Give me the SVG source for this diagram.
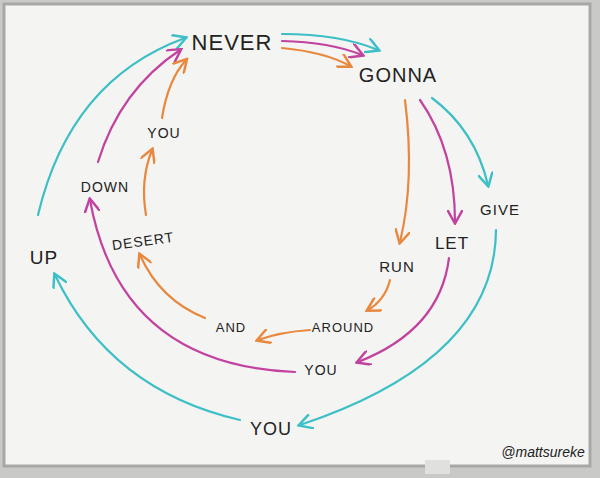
<svg xmlns="http://www.w3.org/2000/svg" width="600" height="478" viewBox="0 0 600 478">
<style>
.t{font-family:"Liberation Sans",sans-serif;fill:#222;text-anchor:middle;letter-spacing:1px}
.c{fill:none;stroke-width:2.2;stroke-linecap:round}
.tl{stroke:#3cbfc6}.mg{stroke:#c2429f}.or{stroke:#e8883e}
</style>
<defs>
<marker id="at" viewBox="0 0 10 10" refX="8" refY="5" markerWidth="7" markerHeight="7" orient="auto"><path d="M0,0 L9,5 L0,10" fill="none" stroke="#3cbfc6" stroke-width="1.6"/></marker>
<marker id="am" viewBox="0 0 10 10" refX="8" refY="5" markerWidth="7" markerHeight="7" orient="auto"><path d="M0,0 L9,5 L0,10" fill="none" stroke="#c2429f" stroke-width="1.6"/></marker>
<marker id="ao" viewBox="0 0 10 10" refX="8" refY="5" markerWidth="7" markerHeight="7" orient="auto"><path d="M0,0 L9,5 L0,10" fill="none" stroke="#e8883e" stroke-width="1.6"/></marker>
</defs>
<rect width="600" height="478" fill="#c9c9c7"/>
<rect x="4" y="4" width="586" height="462" fill="#f4f4f2" stroke="#a8a8a6" stroke-width="3"/>
<rect x="425" y="460" width="25" height="14" fill="#e0e0de"/>
<g id="connectors">
<path class="c tl" d="M282,34 Q340,34 378,50" marker-end="url(#at)"/>
<path class="c mg" d="M282,41 Q330,42 362,55" marker-end="url(#am)"/>
<path class="c or" d="M282,48 Q325,52 350,66" marker-end="url(#ao)"/>
<path class="c tl" d="M432,98 Q475,130 488,185" marker-end="url(#at)"/>
<path class="c mg" d="M420,100 Q455,150 455,222" marker-end="url(#am)"/>
<path class="c or" d="M405,100 Q415,180 400,242" marker-end="url(#ao)"/>
<path class="c tl" d="M496,230 Q495,360 300,425" marker-end="url(#at)"/>
<path class="c mg" d="M449,258 Q440,330 358,362" marker-end="url(#am)"/>
<path class="c or" d="M390,280 Q385,300 368,310" marker-end="url(#ao)"/>
<path class="c or" d="M310,330 Q280,332 258,340" marker-end="url(#ao)"/>
<path class="c tl" d="M240,420 Q110,390 55,275" marker-end="url(#at)"/>
<path class="c mg" d="M295,372 Q120,365 90,200" marker-end="url(#am)"/>
<path class="c or" d="M205,318 Q160,300 140,255" marker-end="url(#ao)"/>
<path class="c tl" d="M38,215 Q70,80 185,38" marker-end="url(#at)"/>
<path class="c mg" d="M98,162 Q120,90 180,50" marker-end="url(#am)"/>
<path class="c or" d="M146,215 Q140,180 152,150" marker-end="url(#ao)"/>
<path class="c or" d="M162,118 Q168,80 186,60" marker-end="url(#ao)"/>
</g>
<g id="n-never"><text class="t" x="232" y="50" font-size="22">NEVER</text></g>
<g id="n-gonna"><text class="t" x="398" y="82" font-size="20">GONNA</text></g>
<g id="n-give"><text class="t" x="500" y="215" font-size="15">GIVE</text></g>
<g id="n-let"><text class="t" x="452" y="249" font-size="17">LET</text></g>
<g id="n-run"><text class="t" x="397" y="272" font-size="15">RUN</text></g>
<g id="n-around"><text class="t" x="343" y="332" font-size="13">AROUND</text></g>
<g id="n-and"><text class="t" x="231" y="332" font-size="13">AND</text></g>
<g id="n-desert"><text class="t" x="143" y="246" font-size="14" transform="rotate(-8 143 241)">DESERT</text></g>
<g id="n-you1"><text class="t" x="164" y="138" font-size="14">YOU</text></g>
<g id="n-down"><text class="t" x="105" y="192" font-size="14">DOWN</text></g>
<g id="n-up"><text class="t" x="44" y="264" font-size="19">UP</text></g>
<g id="n-you2"><text class="t" x="321" y="375" font-size="14">YOU</text></g>
<g id="n-you3"><text class="t" x="271" y="435" font-size="18">YOU</text></g>
<text x="543" y="457" font-family="Liberation Sans,sans-serif" font-size="14" fill="#222" text-anchor="middle" font-style="italic">@mattsureke</text>
</svg>
